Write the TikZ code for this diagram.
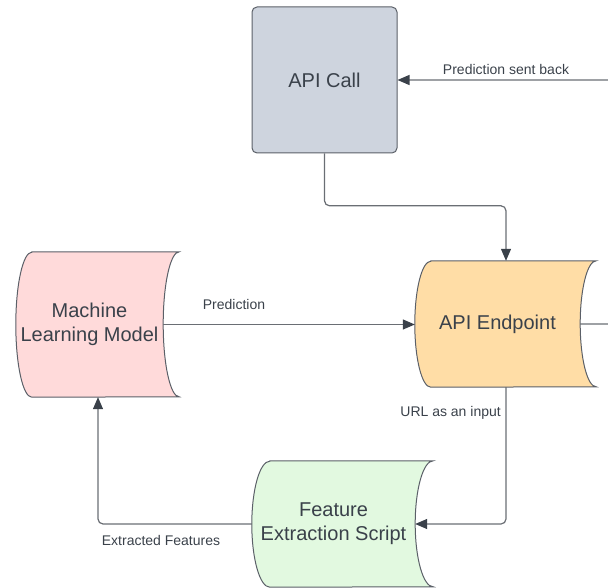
\documentclass[tikz,border=0pt]{standalone}
\usepackage{fontspec}
\setmainfont{Liberation Sans}
\usetikzlibrary{arrows.meta,backgrounds,calc}

\definecolor{txt}{HTML}{3A414A}
\definecolor{edge}{HTML}{5B6068}
\definecolor{wire}{HTML}{6A6E74}
\definecolor{callfill}{HTML}{CED4DE}
\definecolor{mlfill}{HTML}{FFDADA}
\definecolor{epfill}{HTML}{FFDDA6}
\definecolor{fefill}{HTML}{E2F9E0}

\tikzset{
  boxtext/.style={text=txt, font=\fontsize{20}{24}\selectfont, align=center, inner sep=0pt},
  callbox/.style={boxtext, draw=edge, line width=1pt, fill=callfill, rounded corners=5pt,
    minimum width=145pt, minimum height=146pt},
  scrollbox/.style={boxtext, draw=none, minimum height=#1},
  conn/.style={draw=wire, line width=1.2pt, rounded corners=5pt},
  tip/.style={-{Triangle[length=12pt,width=10pt,fill=txt,color=txt]}},
  lbl/.style={text=txt, font=\fontsize{14}{16}\selectfont, inner sep=0pt},
}

% curved "stored data" outline around a node: #1 name, #2 curve depth, #3 half height, #4 fill
\newcommand\scrolloutline[4]{%
  \begin{scope}[on background layer]
    \path[draw=edge, line width=1pt, fill=#4]
      ([xshift=#2]#1.north west) -- ([xshift=#2]#1.north east)
      arc[start angle=90, end angle=270, x radius=#2, y radius=#3]
      -- ([xshift=#2]#1.south west)
      arc[start angle=270, end angle=90, x radius=#2, y radius=#3]
      -- cycle;
  \end{scope}}

\begin{document}
\begin{tikzpicture}[x=1pt,y=1pt]
  \useasboundingbox (0,0) rectangle (608,587);
  \clip (0,0) rectangle (608,587);

  % boxes
  \node[callbox] (call) at (324.5,507) {API Call};
  \node[scrollbox=145pt, minimum width=147pt] (ml) at (89.5,262.5) {Machine\\Learning Model};
  \node[scrollbox=126pt, minimum width=165pt] (ep) at (497.5,263) {API Endpoint};
  \node[scrollbox=126pt, minimum width=163pt] (fe) at (333.5,63) {Feature\\Extraction Script};

  \scrolloutline{ml}{16pt}{72.5pt}{mlfill}
  \scrolloutline{ep}{16pt}{63pt}{epfill}
  \scrolloutline{fe}{18pt}{63pt}{fefill}

  % connector end points offset from the box centres
  \coordinate (epin) at ([xshift=8.5pt]ep.north);
  \coordinate (epout) at ([xshift=8.5pt]ep.south);
  \coordinate (mlin) at ([xshift=8.5pt]ml.south);
  \coordinate (offedge) at (625,0);

  % connectors
  \draw[conn, tip] (call.south) |- ($(epin)+(0,55)$) -- (epin);
  \draw[conn, tip] (ml.east) -- (ml.east -| ep.west);
  \draw[conn, tip] (ep.east) -| (offedge |- call.east) -- (call.east);
  \draw[conn, tip] (epout) |- (fe.east);
  \draw[conn, tip] (fe.west) -| (mlin);

  % labels
  \node[lbl] (l1) at (506,518) {Prediction sent back};
  \node[lbl] (l2) at (234,283) {Prediction};
  \node[lbl, anchor=east] (l3) at (501,174) {URL as an input};
  \node[lbl] (l4) at (161,47) {Extracted Features};
\end{tikzpicture}
\end{document}
